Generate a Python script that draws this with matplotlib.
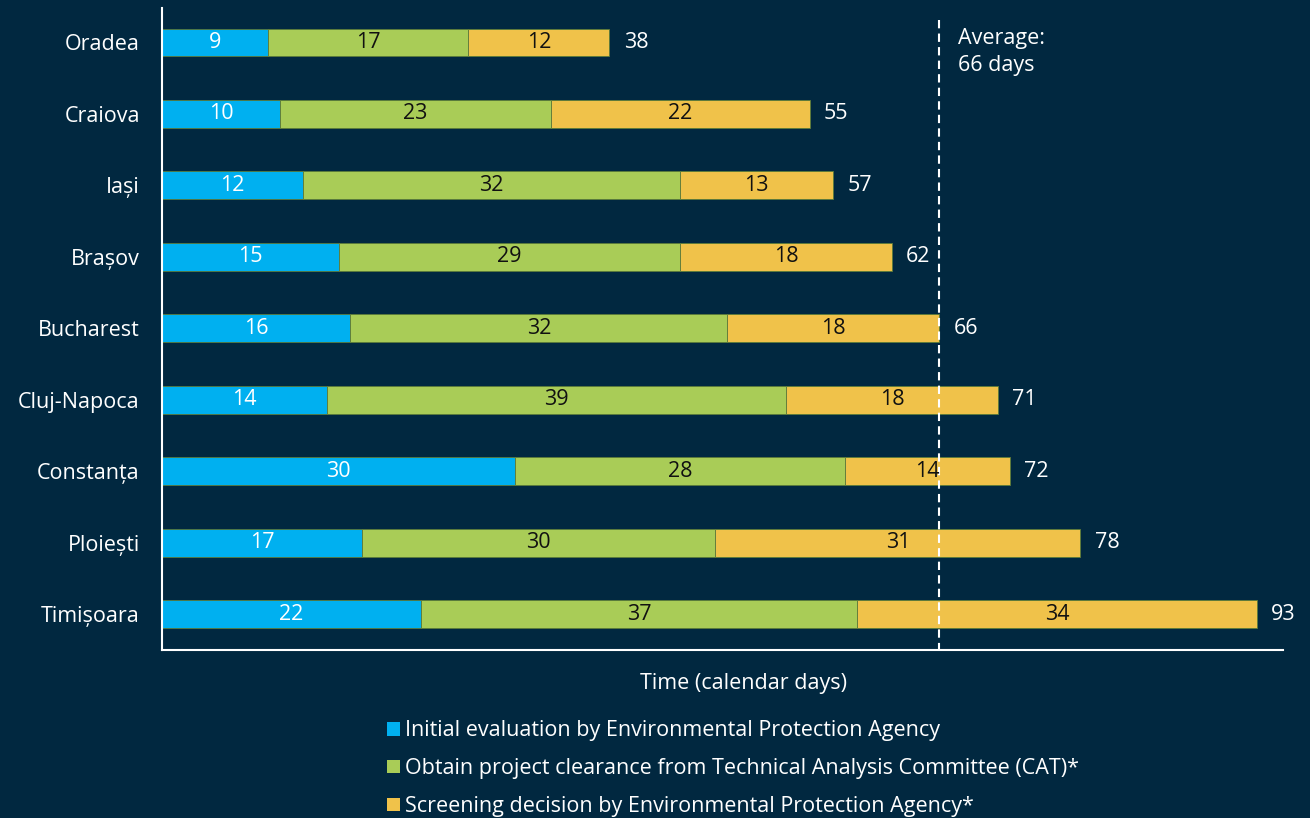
import matplotlib.pyplot as plt
from matplotlib.patches import Patch

cities = ["Oradea", "Craiova", "Iași", "Brașov", "Bucharest", "Cluj-Napoca",
          "Constanța", "Ploiești", "Timișoara"]
initial_eval = [9, 10, 12, 15, 16, 14, 30, 17, 22]
cat_clearance = [17, 23, 32, 29, 32, 39, 28, 30, 37]
screening = [12, 22, 13, 18, 18, 18, 14, 31, 34]
totals = [38, 55, 57, 62, 66, 71, 72, 78, 93]
average_days = 66

series_labels = [
    "Initial evaluation by Environmental Protection Agency",
    "Obtain project clearance from Technical Analysis Committee (CAT)*",
    "Screening decision by Environmental Protection Agency*",
]

BG = "#012840"
COLORS = ["#00b0f0", "#a9cc57", "#f0c24a"]
TEXT_COLORS = ["white", "#111111", "#111111"]
FS = 15.5

plt.rcParams["font.family"] = ["Open Sans", "DejaVu Sans"]

fig = plt.figure(figsize=(13.1, 8.18), dpi=100, facecolor=BG)
ax = fig.add_axes([0.1237, 0.2054, 0.8557, 0.7846])
ax.set_facecolor(BG)

y = list(range(len(cities)))
left = [0] * len(cities)
for vals, col, tcol in zip([initial_eval, cat_clearance, screening], COLORS, TEXT_COLORS):
    bars = ax.barh(y, vals, left=left, height=0.39, color=col,
                   edgecolor="#5a7a3a", linewidth=0.6, zorder=2)
    for b, v in zip(bars, vals):
        ax.text(b.get_x() + b.get_width() / 2, b.get_y() + b.get_height() / 2,
                str(v), ha="center", va="center", color=tcol, fontsize=FS, zorder=4)
    left = [l + v for l, v in zip(left, vals)]

for yi, t in zip(y, totals):
    ax.text(t + 1.2, yi, str(t), ha="left", va="center", color="white", fontsize=FS)

ax.vlines(average_days, -0.31, 8.5, colors="white", linestyles=(0, (4, 2.5)),
          linewidth=1.5, zorder=3)
ax.text(average_days + 1.6, -0.2, "Average:\n66 days", ha="left", va="top",
        color="white", fontsize=FS, linespacing=1.35)

ax.set_xlim(0, 95.2)
ax.set_ylim(8.5, -0.48)
ax.set_yticks(y)
ax.set_yticklabels(cities, color="white", fontsize=FS)
ax.set_xticks([])
ax.tick_params(axis="y", length=0, pad=16)
for s in ["top", "right"]:
    ax.spines[s].set_visible(False)
for s in ["left", "bottom"]:
    ax.spines[s].set_color("white")
    ax.spines[s].set_linewidth(1.5)

fig.text(743 / 1310, 1 - 683 / 818, "Time (calendar days)", ha="center", va="center",
         color="white", fontsize=FS)

handles = [Patch(facecolor=c, edgecolor="none") for c in COLORS]
leg = fig.legend(handles, series_labels, loc="upper left",
                 bbox_to_anchor=(368 / 1310, 1 - 701 / 818), frameon=False,
                 handlelength=0.6, handleheight=0.6, handletextpad=0.2,
                 labelspacing=0.78, fontsize=FS)
for t in leg.get_texts():
    t.set_color("white")

fig.savefig("out.png", dpi=100, facecolor=BG)
